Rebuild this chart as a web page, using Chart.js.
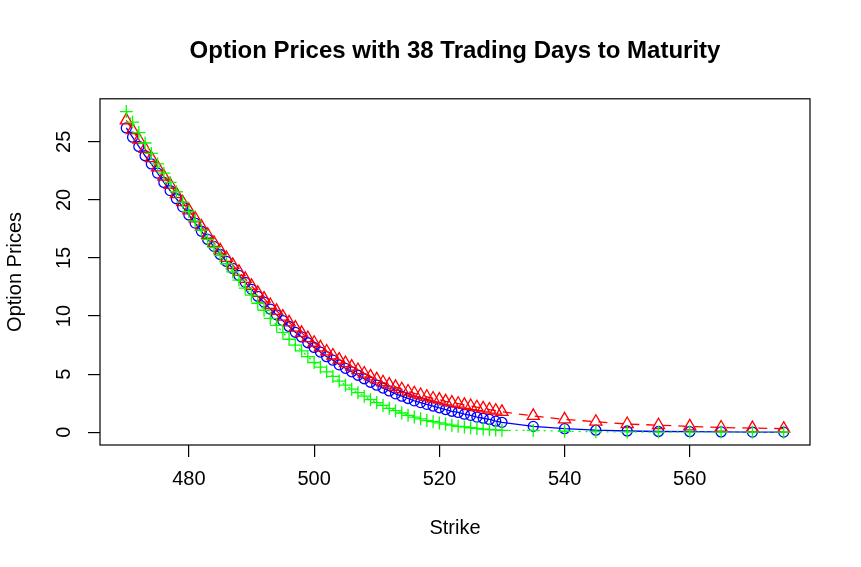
<!DOCTYPE html>
<html>
<head>
<meta charset="utf-8">
<script src="https://cdn.jsdelivr.net/npm/chart.js@4/dist/chart.umd.min.js"></script>
<style>
  html, body { margin: 0; padding: 0; background: #fff; }
  #wrap { width: 861px; height: 567px; }
</style>
</head>
<body>
<div id="wrap"><canvas id="optChart" width="861" height="567"></canvas></div>
<script>
// Strikes: 470..530 by 1, then 535..575 by 5
const strikes = [
  470, 471, 472, 473, 474, 475, 476, 477, 478, 479,
  480, 481, 482, 483, 484, 485, 486, 487, 488, 489,
  490, 491, 492, 493, 494, 495, 496, 497, 498, 499,
  500, 501, 502, 503, 504, 505, 506, 507, 508, 509,
  510, 511, 512, 513, 514, 515, 516, 517, 518, 519,
  520, 521, 522, 523, 524, 525, 526, 527, 528, 529,
  530, 535, 540, 545, 550, 555, 560, 565, 570, 575
];

// blue circles, solid line
const bluePrices = [
  26.2, 25.4, 24.6, 23.8, 23.1, 22.3, 21.5, 20.8, 20.1, 19.4,
  18.7, 18.0, 17.3, 16.6, 16.0, 15.3, 14.7, 14.1, 13.5, 12.9,
  12.3, 11.7, 11.2, 10.6, 10.1, 9.6, 9.1, 8.6, 8.2, 7.7,
  7.3, 6.9, 6.5, 6.2, 5.8, 5.5, 5.2, 4.9, 4.6, 4.3,
  4.05, 3.8, 3.55, 3.3, 3.1, 2.9, 2.7, 2.55, 2.4, 2.25,
  2.1, 1.95, 1.8, 1.7, 1.55, 1.45, 1.3, 1.2, 1.1, 0.95,
  0.85, 0.5, 0.3, 0.17, 0.1, 0.06, 0.04, 0.02, 0.01, 0.01
];

// red triangles, dashed line
const redPrices = [
  26.85, 26.0, 25.2, 24.4, 23.6, 22.8, 22.0, 21.3, 20.5, 19.8,
  19.1, 18.4, 17.7, 17.0, 16.3, 15.65, 15.0, 14.4, 13.8, 13.2,
  12.6, 12.0, 11.5, 10.95, 10.45, 9.95, 9.45, 9.0, 8.55, 8.1,
  7.7, 7.3, 6.95, 6.6, 6.25, 5.95, 5.65, 5.35, 5.05, 4.8,
  4.55, 4.3, 4.1, 3.9, 3.7, 3.5, 3.35, 3.2, 3.05, 2.9,
  2.8, 2.65, 2.55, 2.45, 2.35, 2.25, 2.15, 2.05, 1.95, 1.85,
  1.75, 1.4, 1.1, 0.9, 0.7, 0.6, 0.5, 0.4, 0.35, 0.3
];

// green plus, dotted line
const greenPrices = [
  27.6, 26.7, 25.8, 24.9, 24.0, 23.1, 22.3, 21.5, 20.7, 19.8,
  19.0, 18.2, 17.4, 16.6, 15.9, 15.2, 14.5, 13.8, 13.1, 12.4,
  11.8, 11.1, 10.5, 9.8, 9.2, 8.6, 8.0, 7.5, 7.0, 6.5,
  6.0, 5.6, 5.2, 4.8, 4.4, 4.05, 3.7, 3.4, 3.1, 2.8,
  2.55, 2.3, 2.05, 1.85, 1.65, 1.45, 1.3, 1.15, 1.0, 0.9,
  0.8, 0.7, 0.6, 0.5, 0.45, 0.38, 0.32, 0.27, 0.22, 0.19,
  0.16, 0.15, 0.08, 0.04, 0.02, 0.01, 0.01, 0.01, 0.0, 0.0
];

const xTicks = [480, 500, 520, 540, 560];
const yTicks = [0, 5, 10, 15, 20, 25];

const FONT = '"Liberation Sans", Arial, sans-serif';

// R style axis limits: data range plus 4% each side
function rRange(vals) {
  const lo = Math.min(...vals), hi = Math.max(...vals);
  const pad = (hi - lo) * 0.04;
  return [lo - pad, hi + pad];
}
const [xMin, xMax] = rRange(strikes);
const [yMin, yMax] = rRange(bluePrices.concat(redPrices, greenPrices));

const toXY = (ys) => strikes.map((s, i) => ({ x: s, y: ys[i] }));

// box round the plot plus vertical y tick labels
const framePlugin = {
  id: 'frame',
  afterDraw(chart) {
    const { ctx, chartArea: a, scales } = chart;
    ctx.save();
    ctx.strokeStyle = '#000';
    ctx.lineWidth = 1.2;
    ctx.strokeRect(a.left, a.top, a.right - a.left, a.bottom - a.top);
    ctx.fillStyle = '#000';
    ctx.font = '20px ' + FONT;
    ctx.textAlign = 'center';
    ctx.textBaseline = 'middle';
    yTicks.forEach((v) => {
      const py = scales.y.getPixelForValue(v);
      ctx.save();
      ctx.translate(a.left - 36, py);
      ctx.rotate(-Math.PI / 2);
      ctx.fillText(String(v), 0, 0);
      ctx.restore();
    });
    ctx.restore();
  }
};

new Chart(document.getElementById('optChart'), {
  type: 'line',
  data: {
    datasets: [
      {
        data: toXY(greenPrices),
        borderColor: '#00FF00',
        borderWidth: 1.3,
        borderDash: [2, 5],
        pointStyle: 'cross',
        pointRadius: 6.5,
        pointBorderWidth: 1.3,
        pointBorderColor: '#00FF00',
        order: 0
      },
      {
        data: toXY(redPrices),
        borderColor: '#FF0000',
        borderWidth: 1.3,
        borderDash: [9, 7],
        pointStyle: 'triangle',
        pointRadius: 7,
        pointBorderWidth: 1.3,
        pointBorderColor: '#FF0000',
        pointBackgroundColor: 'rgba(0,0,0,0)',
        order: 1
      },
      {
        data: toXY(bluePrices),
        borderColor: '#0000FF',
        borderWidth: 1.3,
        pointStyle: 'circle',
        pointRadius: 5,
        pointBorderWidth: 1.3,
        pointBorderColor: '#0000FF',
        pointBackgroundColor: 'rgba(0,0,0,0)',
        order: 2
      }
    ]
  },
  options: {
    responsive: false,
    animation: false,
    layout: { padding: { left: 0, right: 51, top: 0, bottom: 0 } },
    plugins: {
      legend: { display: false },
      tooltip: { enabled: false },
      title: {
        display: true,
        fullSize: false,
        text: 'Option Prices with 38 Trading Days to Maturity',
        color: '#000',
        font: { family: FONT, size: 24, weight: 'bold', lineHeight: 1.2 },
        padding: { top: 37, bottom: 33 }
      }
    },
    scales: {
      x: {
        type: 'linear',
        min: xMin,
        max: xMax,
        afterBuildTicks: (s) => { s.ticks = xTicks.map((v) => ({ value: v })); },
        afterFit: (s) => { s.height = 122; },
        grid: { display: true, drawOnChartArea: false, drawTicks: true, tickLength: 12, color: '#000', lineWidth: 1.2 },
        border: { display: false },
        ticks: { color: '#000', padding: 10, maxRotation: 0, font: { family: FONT, size: 20 } },
        title: { display: true, text: 'Strike', color: '#000', font: { family: FONT, size: 20 }, padding: { top: 0, bottom: 27 } }
      },
      y: {
        type: 'linear',
        min: yMin,
        max: yMax,
        afterBuildTicks: (s) => { s.ticks = yTicks.map((v) => ({ value: v })); },
        afterFit: (s) => { s.width = 100; },
        grid: { display: true, drawOnChartArea: false, drawTicks: true, tickLength: 12, color: '#000', lineWidth: 1.2 },
        border: { display: false },
        ticks: { display: false },
        title: { display: true, text: 'Option Prices', color: '#000', font: { family: FONT, size: 20 }, padding: { top: 3, bottom: 0 } }
      }
    }
  },
  plugins: [framePlugin]
});
</script>
</body>
</html>
